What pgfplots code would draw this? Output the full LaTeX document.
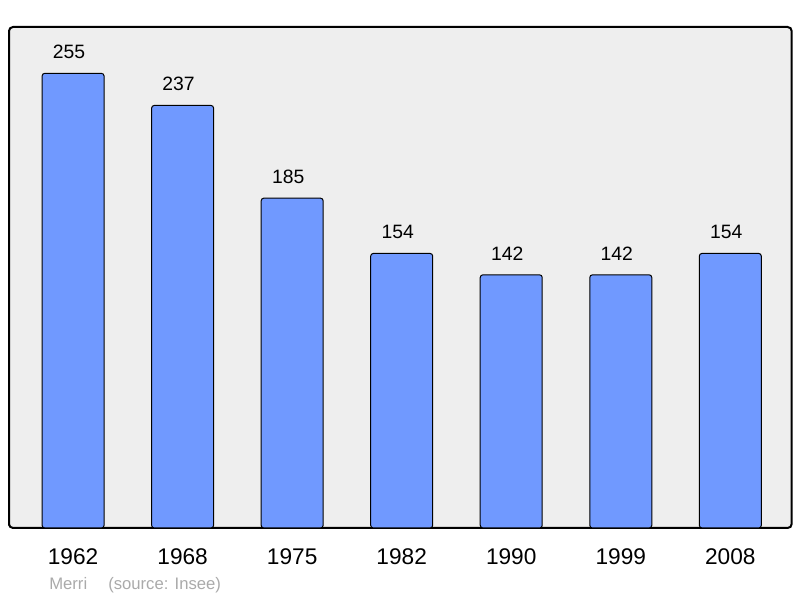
\documentclass[border=0pt]{standalone}
\usepackage{pgfplots}
\pgfplotsset{compat=1.18}
\usepackage{fontspec}
\setmainfont{Liberation Sans}
\definecolor{barblue}{HTML}{7099FF}
\definecolor{bg}{HTML}{EEEEEE}
\definecolor{srcgray}{HTML}{AAAAAA}
\begin{document}
\begin{tikzpicture}
\begin{axis}[
  scale only axis,
  width=587pt, height=375.75pt,
  xmin=-0.585, xmax=6.56,
  ymin=0, ymax=281,
  axis background/.style={fill=bg},
  axis line style={line width=1.5pt, rounded corners=3pt},
  ybar, bar width=46.5pt,
  xtick=data,
  xticklabels={1962,1968,1975,1982,1990,1999,2008},
  major tick length=0pt,
  ytick=\empty,
  xticklabel style={font=\fontsize{17}{17}\selectfont, anchor=base, yshift=-27.5pt},
  nodes near coords,
  every node near coord/.append style={font=\fontsize{14.5}{14.5}\selectfont, anchor=base, yshift=11pt, xshift=-3pt},
  /pgf/number format/assume math mode=true,
]
\addplot[fill=barblue, draw=black, line width=0.75pt, rounded corners=2pt]
  coordinates {(0,255) (1,237) (2,185) (3,154) (4,142) (5,142) (6,154)};
\end{axis}
\node[anchor=base west, text=srcgray, font=\fontsize{12.5}{12.5}\selectfont, inner sep=0pt]
  at ([shift={(30pt,-46.5pt)}]current axis.south west) {Merri};
\node[anchor=base west, text=srcgray, font=\fontsize{12.5}{12.5}\selectfont, inner sep=0pt]
  at ([shift={(74.25pt,-46.5pt)}]current axis.south west) {(source: Insee)};
\useasboundingbox ([shift={(-6.75pt,-52.5pt)}]current axis.south west) rectangle
  ([shift={(593.25pt,396pt)}]current axis.south west);
\end{tikzpicture}
\end{document}
